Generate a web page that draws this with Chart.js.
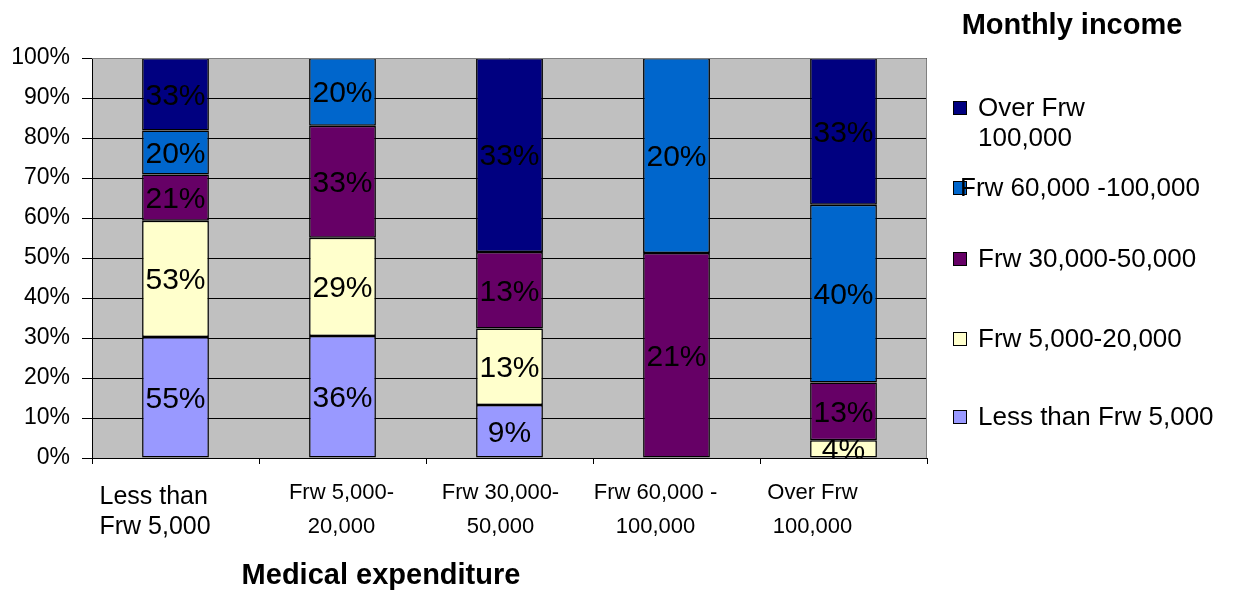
<!DOCTYPE html>
<html>
<head>
<meta charset="utf-8">
<script src="https://cdn.jsdelivr.net/npm/chart.js@4"></script>
<style>
  html, body { margin: 0; padding: 0; background: #fff; }
  #wrap { width: 1236px; height: 592px; position: relative; }
</style>
</head>
<body>
<div id="wrap"><canvas id="incomeChart"></canvas></div>
<script>
// medical expenditure groups (x axis)
const expenditure = [
    ['Less than', 'Frw 5,000'],
    ['Frw 5,000-', '20,000'],
    ['Frw 30,000-', '50,000'],
    ['Frw 60,000 -', '100,000'],
    ['Over Frw', '100,000']
];

// income group shares (%), bottom of the stack first
const lessThan5k = [55, 36, 9, 0, 0];
const from5kTo20k = [53, 29, 13, 0, 4];
const from30kTo50k = [21, 33, 13, 21, 13];
const from60kTo100k = [20, 20, 0, 20, 40];
const over100k = [33, 0, 33, 0, 33];

const incomeNames = ['Less than Frw 5,000', 'Frw 5,000-20,000', 'Frw 30,000-50,000', 'Frw 60,000 -100,000', 'Over Frw 100,000'];
const incomeColors = ['#9999FF', '#FFFFCC', '#660066', '#0066CC', '#000080'];
const yTicks = [0, 10, 20, 30, 40, 50, 60, 70, 80, 90, 100];

const series = [lessThan5k, from5kTo20k, from30kTo50k, from60kTo100k, over100k];

// each column is stacked to 100%
const totals = expenditure.map((_, i) => series.reduce((s, arr) => s + arr[i], 0));

const datasets = series.map((values, k) => ({
    label: incomeNames[k],
    raw: values,
    data: values.map((v, i) => v / totals[i] * 100),
    backgroundColor: incomeColors[k],
    borderColor: '#000',
    borderWidth: 1.5,
    borderSkipped: false,
    barPercentage: 0.4,
    categoryPercentage: 1
}));

const FONT = '"Liberation Sans", Arial, sans-serif';

const plotBackground = {
    id: 'plotBackground',
    beforeDraw(chart) {
        const { ctx, chartArea: a } = chart;
        ctx.save();
        ctx.fillStyle = '#C0C0C0';
        ctx.fillRect(a.left, a.top, a.right - a.left, a.bottom - a.top);
        ctx.restore();
    },
    afterDatasetsDraw(chart) {
        const { ctx, chartArea: a } = chart;
        ctx.save();
        ctx.strokeStyle = '#808080';
        ctx.lineWidth = 1;
        ctx.beginPath();
        ctx.moveTo(a.left, a.top + 0.5);
        ctx.lineTo(a.right - 0.5, a.top + 0.5);
        ctx.lineTo(a.right - 0.5, a.bottom);
        ctx.stroke();
        ctx.restore();
    }
};

const segmentLabels = {
    id: 'segmentLabels',
    afterDatasetsDraw(chart) {
        const { ctx } = chart;
        ctx.save();
        ctx.font = '30px ' + FONT;
        ctx.fillStyle = '#000';
        ctx.textAlign = 'center';
        ctx.textBaseline = 'middle';
        chart.data.datasets.forEach((ds, k) => {
            chart.getDatasetMeta(k).data.forEach((bar, i) => {
                if (!ds.raw[i]) return;
                const mid = (bar.y + bar.base) / 2;
                ctx.fillText(ds.raw[i] + '%', bar.x, mid + 2);
            });
        });
        ctx.restore();
    }
};

// category labels sit a little left of their bars
const labelShift = [-76, -1, -9, -21, -31];

const categoryLabels = {
    id: 'categoryLabels',
    afterDraw(chart) {
        const { ctx } = chart;
        const x = chart.scales.x;
        ctx.save();
        ctx.fillStyle = '#000';
        ctx.textBaseline = 'middle';
        expenditure.forEach((lines, i) => {
            const px = x.getPixelForValue(i) + labelShift[i];
            if (i === 0) {
                ctx.font = '25px ' + FONT;
                ctx.textAlign = 'left';
                ctx.fillText(lines[0], px, 497);
                ctx.fillText(lines[1], px, 527);
            } else {
                ctx.font = '22px ' + FONT;
                ctx.textAlign = 'center';
                ctx.fillText(lines[0], px, 493);
                ctx.fillText(lines[1], px, 527);
            }
        });
        ctx.restore();
    }
};

const sideText = {
    id: 'sideText',
    afterDraw(chart) {
        const { ctx } = chart;
        ctx.save();
        ctx.fillStyle = '#000';
        ctx.textBaseline = 'middle';
        ctx.textAlign = 'center';
        ctx.font = 'bold 29px ' + FONT;
        ctx.fillText('Monthly income', 1072, 26);
        ctx.fillText('Medical expenditure', 381, 576);

        // legend, top entry is the top of the stack
        const rows = [
            { idx: 4, lines: ['Over Frw', '100,000'], y: 108, tx: 978 },
            { idx: 3, lines: [incomeNames[3]], y: 188, tx: 960 },
            { idx: 2, lines: [incomeNames[2]], y: 259, tx: 978 },
            { idx: 1, lines: [incomeNames[1]], y: 339, tx: 978 },
            { idx: 0, lines: [incomeNames[0]], y: 417, tx: 978 }
        ];
        ctx.font = '26px ' + FONT;
        ctx.textAlign = 'left';
        rows.forEach(r => {
            ctx.fillStyle = incomeColors[r.idx];
            ctx.fillRect(953, r.y - 7, 14, 14);
            ctx.strokeStyle = '#000';
            ctx.lineWidth = 1;
            ctx.strokeRect(953.5, r.y - 6.5, 13, 13);
            ctx.fillStyle = '#000';
            r.lines.forEach((t, j) => ctx.fillText(t, r.tx, r.y + 1 + j * 30));
        });
        ctx.restore();
    }
};

new Chart(document.getElementById('incomeChart'), {
    type: 'bar',
    data: { labels: expenditure, datasets },
    options: {
        responsive: true,
        maintainAspectRatio: false,
        animation: false,
        layout: { padding: { top: 58, right: 309, left: 0, bottom: 0 } },
        plugins: {
            legend: { display: false },
            tooltip: { enabled: false }
        },
        scales: {
            x: {
                stacked: true,
                afterFit: s => { s.height = 134; },
                grid: {
                    offset: true,
                    drawOnChartArea: false,
                    color: '#000',
                    tickLength: 6
                },
                border: { color: '#000' },
                ticks: { display: false }
            },
            y: {
                stacked: true,
                min: 0,
                max: 100,
                afterFit: s => { s.width = 92; },
                afterBuildTicks: s => { s.ticks = yTicks.map(v => ({ value: v })); },
                grid: { color: '#000', tickLength: 10 },
                border: { color: '#000' },
                ticks: {
                    color: '#000',
                    padding: 12,
                    font: { family: FONT, size: 23 },
                    callback: v => v + '%'
                }
            }
        }
    },
    plugins: [plotBackground, segmentLabels, categoryLabels, sideText]
});
</script>
</body>
</html>
